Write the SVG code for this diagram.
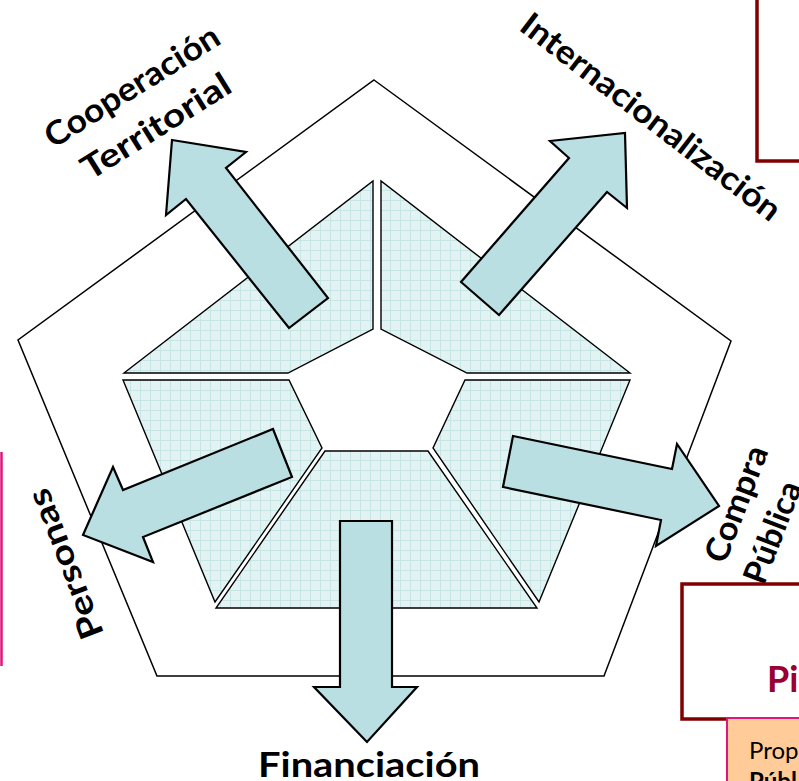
<svg xmlns="http://www.w3.org/2000/svg" width="799" height="781" viewBox="0 0 799 781">
<defs>
<pattern id="grid" width="10" height="10" patternUnits="userSpaceOnUse">
<rect width="10" height="10" fill="#e3f2f2"/>
<path d="M0 0.5H10M0.5 0V10" stroke="#c6e6e6" stroke-width="1" fill="none"/>
</pattern>
</defs>
<style>
.outer{fill:#fff;stroke:#000;stroke-width:1.5}
.piece{fill:url(#grid);stroke:#000;stroke-width:1.4;stroke-linejoin:miter}
.arrow{fill:#b9dfe2;stroke:#000;stroke-width:2.2;stroke-linejoin:miter}
.lbl{font-family:Lato,"Liberation Sans",sans-serif;font-weight:bold;font-size:33px;fill:#000}
.box{fill:#fff;stroke:#800000;stroke-width:3.5}
</style>
<rect width="799" height="781" fill="#fff"/>
<g id="pentagon">
<polygon class="outer" points="374,80 731,341 604,676 157,676 18,340"/>
</g>
<g id="pieces">
<polygon class="piece" points="373,181 373,329 288,373 124,373"/>
<polygon class="piece" points="381,181 381,329 467,373 630,373"/>
<polygon class="piece" points="123,380 289,380 322,448 215,602"/>
<polygon class="piece" points="465,380 630,380 539,602 433,448"/>
<polygon class="piece" points="325,451 428,451 537,608 216,608"/>
</g>
<g id="arrows">
<polygon id="arrow-cooperacion" class="arrow" points="172,140 246,152 226,168 328,298 289,328 186,199 166,215"/>
<polygon id="arrow-internacionalizacion" class="arrow" points="625,133 627,208 607,192 499,315 461,282 569,158 550,141"/>
<polygon id="arrow-compra" class="arrow" points="719,506 656,546 661,520 503,487 513,436 672,469 677,444"/>
<polygon id="arrow-personas" class="arrow" points="83,535 113,467 123,490 273,429 292,477 143,537 153,562"/>
<polygon id="arrow-financiacion" class="arrow" points="367,742 314,687 340,687 340,521 392,521 392,687 417,687"/>
</g>
<g id="label-cooperacion" transform="translate(138,96) rotate(-32)">
<text class="lbl" x="0" y="0" text-anchor="middle" textLength="200" lengthAdjust="spacingAndGlyphs">Cooperación</text>
</g>
<g id="label-territorial" transform="translate(162,136) rotate(-32)">
<text class="lbl" x="0" y="0" text-anchor="middle" textLength="170" lengthAdjust="spacingAndGlyphs">Territorial</text>
</g>
<g id="label-internacionalizacion" transform="translate(644,126) rotate(37.5)">
<text class="lbl" x="0" y="0" text-anchor="middle" textLength="318" lengthAdjust="spacingAndGlyphs">Internacionalización</text>
</g>
<g id="label-personas" transform="translate(76,560) rotate(-111)">
<text class="lbl" x="0" y="0" text-anchor="middle" textLength="158" lengthAdjust="spacingAndGlyphs">Personas</text>
</g>
<g id="label-compra" transform="translate(725,565) rotate(-69)">
<text class="lbl" x="0" y="0" textLength="122" lengthAdjust="spacingAndGlyphs">Compra</text>
<text class="lbl" x="-6" y="44">Pública</text>
</g>
<g id="label-financiacion">
<text class="lbl" x="369" y="777" text-anchor="middle" style="font-size:35px" textLength="222" lengthAdjust="spacingAndGlyphs">Financiación</text>
</g>
<g id="box-top">
<rect class="box" x="757" y="-10" width="60" height="171"/>
</g>
<g id="box-pi">
<rect class="box" x="682" y="584" width="130" height="135"/>
<text x="767" y="692" style="font-family:Lato,'Liberation Sans',sans-serif;font-weight:bold;font-size:36px;fill:#990033">Pi</text>
</g>
<g id="box-prop">
<rect x="727" y="718" width="90" height="80" fill="#ffcc99" stroke="#e0157a" stroke-width="2"/>
<text x="749" y="759" style="font-family:Lato,'Liberation Sans',sans-serif;font-size:24px;fill:#000">Prop</text>
<text x="749" y="790" style="font-family:Lato,'Liberation Sans',sans-serif;font-weight:bold;font-size:24px;fill:#000">Públ</text>
</g>
<g id="box-left">
<line x1="1.5" y1="452" x2="1.5" y2="666" stroke="#e0157a" stroke-width="2.5"/>
</g>
</svg>
